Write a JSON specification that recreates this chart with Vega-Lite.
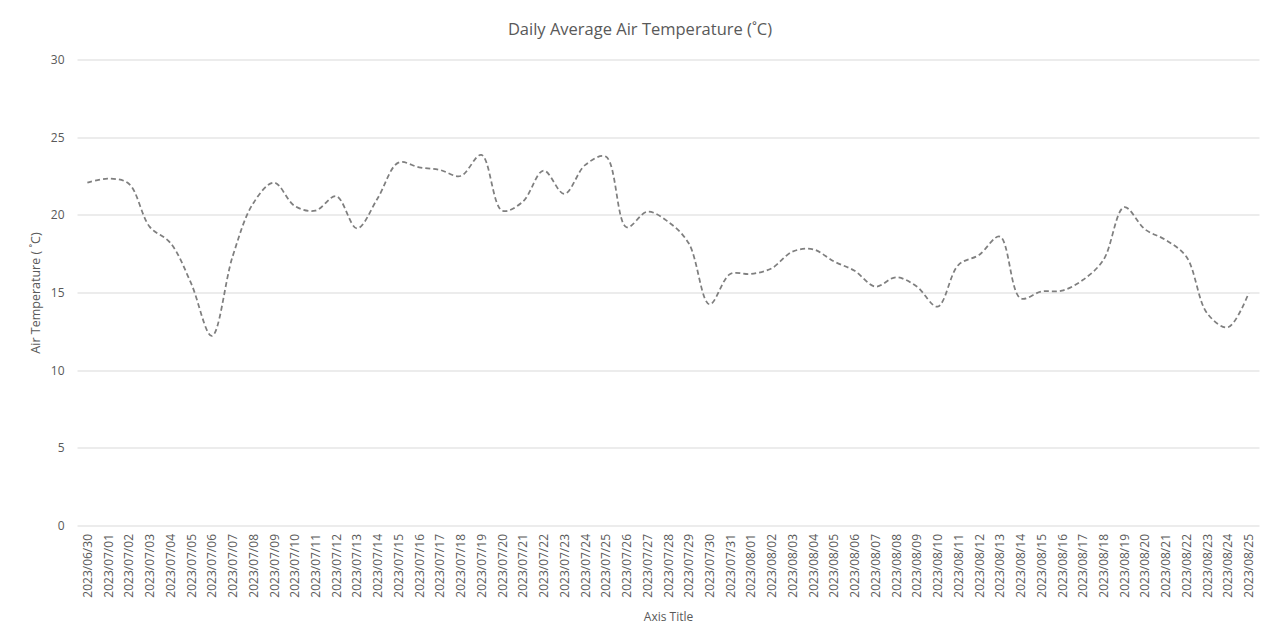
{
  "$schema": "https://vega.github.io/schema/vega-lite/v6.json",
  "autosize": "none",
  "width": 1182,
  "height": 466,
  "padding": {"left": 77, "top": 59.5, "right": 16, "bottom": 114.5},
  "background": "white",
  "title": {
    "text": "Daily Average Air Temperature (˚C)",
    "font": "Open Sans",
    "fontSize": 16.5,
    "fontWeight": "normal",
    "color": "#595959",
    "anchor": "middle",
    "dx": -28,
    "offset": 15
  },
  "data": {
    "values": [
      {"date": "2023/06/30", "temp": 22.07},
      {"date": "2023/07/01", "temp": 22.33},
      {"date": "2023/07/02", "temp": 22.0},
      {"date": "2023/07/03", "temp": 19.24},
      {"date": "2023/07/04", "temp": 18.2},
      {"date": "2023/07/05", "temp": 15.6},
      {"date": "2023/07/06", "temp": 12.2},
      {"date": "2023/07/07", "temp": 17.3},
      {"date": "2023/07/08", "temp": 20.75},
      {"date": "2023/07/09", "temp": 22.07},
      {"date": "2023/07/10", "temp": 20.57},
      {"date": "2023/07/11", "temp": 20.27},
      {"date": "2023/07/12", "temp": 21.2},
      {"date": "2023/07/13", "temp": 19.13},
      {"date": "2023/07/14", "temp": 21.07},
      {"date": "2023/07/15", "temp": 23.36},
      {"date": "2023/07/16", "temp": 23.06},
      {"date": "2023/07/17", "temp": 22.89},
      {"date": "2023/07/18", "temp": 22.5},
      {"date": "2023/07/19", "temp": 23.86},
      {"date": "2023/07/20", "temp": 20.27},
      {"date": "2023/07/21", "temp": 20.85},
      {"date": "2023/07/22", "temp": 22.85},
      {"date": "2023/07/23", "temp": 21.35},
      {"date": "2023/07/24", "temp": 23.2},
      {"date": "2023/07/25", "temp": 23.75},
      {"date": "2023/07/26", "temp": 19.2},
      {"date": "2023/07/27", "temp": 20.2},
      {"date": "2023/07/28", "temp": 19.56},
      {"date": "2023/07/29", "temp": 18.17},
      {"date": "2023/07/30", "temp": 14.24},
      {"date": "2023/07/31", "temp": 16.19},
      {"date": "2023/08/01", "temp": 16.19},
      {"date": "2023/08/02", "temp": 16.56},
      {"date": "2023/08/03", "temp": 17.63},
      {"date": "2023/08/04", "temp": 17.78},
      {"date": "2023/08/05", "temp": 17.0},
      {"date": "2023/08/06", "temp": 16.4},
      {"date": "2023/08/07", "temp": 15.38},
      {"date": "2023/08/08", "temp": 15.98},
      {"date": "2023/08/09", "temp": 15.38},
      {"date": "2023/08/10", "temp": 14.09},
      {"date": "2023/08/11", "temp": 16.77},
      {"date": "2023/08/12", "temp": 17.42},
      {"date": "2023/08/13", "temp": 18.6},
      {"date": "2023/08/14", "temp": 14.63},
      {"date": "2023/08/15", "temp": 15.06},
      {"date": "2023/08/16", "temp": 15.12},
      {"date": "2023/08/17", "temp": 15.8},
      {"date": "2023/08/18", "temp": 17.1},
      {"date": "2023/08/19", "temp": 20.49},
      {"date": "2023/08/20", "temp": 19.07},
      {"date": "2023/08/21", "temp": 18.38},
      {"date": "2023/08/22", "temp": 17.3},
      {"date": "2023/08/23", "temp": 13.66},
      {"date": "2023/08/24", "temp": 12.76},
      {"date": "2023/08/25", "temp": 14.95}
    ]
  },
  "mark": {
    "type": "line",
    "interpolate": "catmull-rom",
    "color": "#7f7f7f",
    "strokeWidth": 1.75,
    "strokeDash": [5, 3]
  },
  "encoding": {
    "x": {
      "field": "date",
      "type": "ordinal",
      "sort": null,
      "scale": {"type": "point", "padding": 0.5},
      "axis": {
        "title": "Axis Title",
        "labelAngle": -90,
        "labelFont": "Open Sans",
        "labelFontSize": 12,
        "labelColor": "#595959",
        "labelPadding": 8,
        "ticks": false,
        "domain": false,
        "grid": false,
        "titleFont": "Open Sans",
        "titleFontSize": 12,
        "titleFontWeight": "normal",
        "titleColor": "#595959",
        "titlePadding": 14
      }
    },
    "y": {
      "field": "temp",
      "type": "quantitative",
      "scale": {"domain": [0, 30], "nice": false},
      "axis": {
        "title": "Air Temperature ( ˚C)",
        "values": [0, 5, 10, 15, 20, 25, 30],
        "labelFont": "Open Sans",
        "labelFontSize": 12,
        "labelColor": "#595959",
        "labelPadding": 13,
        "ticks": false,
        "domain": false,
        "grid": true,
        "gridColor": "#d9d9d9",
        "gridWidth": 1,
        "titleFont": "Open Sans",
        "titleFontSize": 12.5,
        "titleFontWeight": "normal",
        "titleColor": "#595959",
        "titlePadding": 8
      }
    }
  },
  "config": {
    "view": {"stroke": null}
  }
}
